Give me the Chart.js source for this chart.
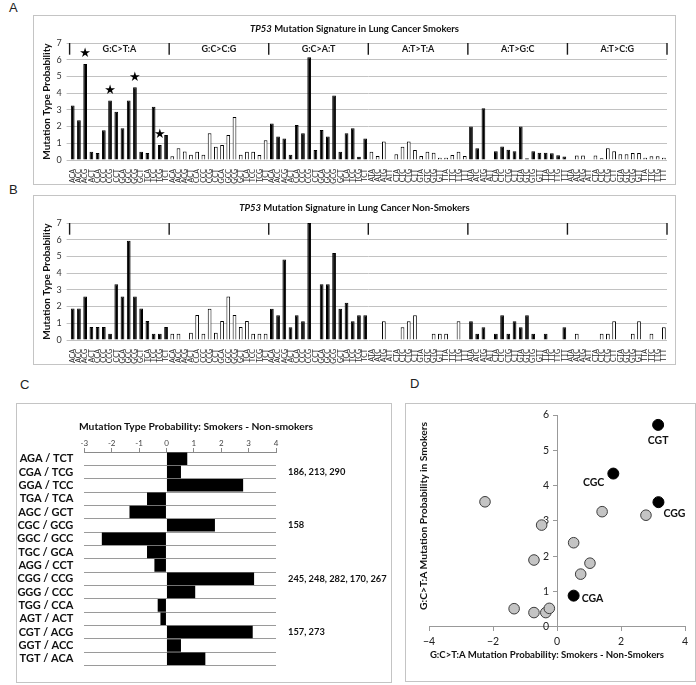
<!DOCTYPE html>
<html><head><meta charset="utf-8">
<script src="https://cdn.jsdelivr.net/npm/chart.js@4.4.1/dist/chart.umd.min.js"></script>
<style>
html,body{margin:0;padding:0;background:#fff;}
#wrap{position:relative;width:696px;height:685px;overflow:hidden;font-family:Lato,"Open Sans",sans-serif;}
.box{position:absolute;border:1px solid #c4c4c4;box-sizing:border-box;}
.letter{position:absolute;font-family:"Liberation Sans",Arial,sans-serif;font-size:13px;line-height:13px;color:#222;}
.ttl{position:absolute;font-weight:bold;color:#111;white-space:nowrap;text-align:center;line-height:12px;}
canvas{position:absolute;}
</style></head><body>
<div id="wrap">
  <div class="letter" style="left:9px;top:1px">A</div>
  <div class="letter" style="left:9px;top:183px">B</div>
  <div class="letter" style="left:20px;top:378px">C</div>
  <div class="letter" style="left:410px;top:377px">D</div>

  <div class="box" style="left:33px;top:15px;width:643px;height:170px"></div>
  <div class="box" style="left:33px;top:195px;width:643px;height:170px"></div>
  <div class="box" style="left:16px;top:403px;width:376px;height:280px"></div>
  <div class="box" style="left:405px;top:403px;width:291px;height:279px"></div>

  <canvas id="chartA" width="643" height="170" style="left:33px;top:15px"></canvas>
  <canvas id="chartB" width="643" height="170" style="left:33px;top:195px"></canvas>
  <canvas id="chartC" width="376" height="280" style="left:16px;top:403px"></canvas>
  <canvas id="chartD" width="291" height="279" style="left:405px;top:403px"></canvas>

  <div class="ttl" style="left:33px;width:643px;top:23px;font-size:9.5px"><i>TP53</i> Mutation Signature in Lung Cancer Smokers</div>
  <div class="ttl" style="left:33px;width:643px;top:202px;font-size:9.5px"><i>TP53</i> Mutation Signature in Lung Cancer Non-Smokers</div>
  <div class="ttl" style="left:16px;width:360px;top:420px;font-size:10.3px">Mutation Type Probability: Smokers - Non-smokers</div>
  <div class="ttl" style="left:407px;width:280px;top:649px;font-size:9.6px">G:C&gt;T:A Mutation Probability: Smokers - Non-Smokers</div>
  <div class="ttl" style="left:308px;width:230px;top:510px;font-size:10.3px;transform:rotate(-90deg);transform-origin:center center">G:C&gt;T:A Mutation Probability in Smokers</div>
</div>
<script>
// ---------- Data ----------
const mutationTypes = ['G:C>T:A','G:C>C:G','G:C>A:T','A:T>T:A','A:T>G:C','A:T>C:G'];
const gcContexts = ['ACA','ACC','ACG','ACT','CCA','CCC','CCG','CCT','GCA','GCC','GCG','GCT','TCA','TCC','TCG','TCT'];
const atContexts = ['ATA','ATC','ATG','ATT','CTA','CTC','CTG','CTT','GTA','GTC','GTG','GTT','TTA','TTC','TTG','TTT'];

// Panel A: smokers
const smokersGCtoTA = [3.26,2.38,5.74,0.5,0.42,1.78,3.56,2.88,1.9,3.56,4.36,0.5,0.42,3.18,0.9,1.5];
const smokersGCtoCG = [0.23,0.7,0.51,0.31,0.5,0.31,1.6,0.79,0.9,1.5,2.58,0.31,0.5,0.5,0.3,1.18];
const smokersGCtoAT = [2.18,1.4,1.29,0.31,2.1,1.6,6.14,0.6,1.79,1.4,3.86,0.5,1.6,1.9,0.2,1.29];
const smokersATtoTA = [0.5,0.24,1.1,0,0.34,0.8,1.1,0.6,0.24,0.5,0.44,0.14,0.14,0.3,0.5,0.24];
const smokersATtoGC = [2.0,0.7,3.09,0,0.52,0.81,0.61,0.52,2.0,0.11,0.52,0.43,0.43,0.41,0.29,0.21];
const smokersATtoCG = [0,0.27,0.27,0,0.27,0.1,0.7,0.53,0.35,0.35,0.42,0.42,0.14,0.22,0.22,0.14];
const starredSmokersGCtoTA = ['ACG','CCG','GCG','TCG'];

// Panel B: non-smokers
const nonSmokersGCtoTA = [1.89,1.89,2.6,0.78,0.78,0.78,0.38,3.34,2.6,5.94,2.6,1.89,1.13,0.38,0.38,0.78];
const nonSmokersGCtoCG = [0.38,0.38,0,0.44,1.5,0.38,1.87,0.44,1.13,2.6,1.5,0.78,1.13,0.38,0.38,0.38];
const nonSmokersGCtoAT = [1.87,1.48,4.82,0.76,1.48,1.12,7.0,0,3.33,3.33,5.2,1.87,2.23,1.12,1.48,1.48];
const nonSmokersATtoTA = [0,0,1.12,0,0,0.76,1.12,1.48,0,0,0.38,0.38,0.38,0,1.12,0];
const nonSmokersATtoGC = [1.12,0.38,0.76,0,0.38,1.48,0.38,1.12,0.76,1.48,0.38,0,0.38,0,0,0.76];
const nonSmokersATtoCG = [0,0.38,0,0,0,0.38,0.38,1.12,0,0,0.38,1.12,0,0.38,0,0.76];

// Panel C
const pairLabels = ['AGA / TCT','CGA / TCG','GGA / TCC','TGA / TCA','AGC / GCT','CGC / GCG','GGC / GCC','TGC / GCA','AGG / CCT','CGG / CCG','GGG / CCC','TGG / CCA','AGT / ACT','CGT / ACG','GGT / ACC','TGT / ACA'];
const diffSmokersMinusNon = [0.76,0.53,2.8,-0.71,-1.35,1.77,-2.36,-0.71,-0.44,3.2,1.05,-0.32,-0.22,3.15,0.53,1.42];
const codonLabels = ['','186, 213, 290','','','','158','','','','245, 248, 282, 170, 267','','','','157, 273','',''];

// Panel D
const otherDiff = [-2.25,-0.48,1.41,2.78,0.52,-0.72,1.03,0.74,-1.34,-0.72,-0.35,-0.24];
const otherSmokers = [3.54,2.88,3.26,3.16,2.38,1.89,1.8,1.49,0.51,0.4,0.4,0.52];
const cpgLabels = ['CGT','CGC','CGG','CGA'];
const cpgDiff = [3.16,1.76,3.17,0.52];
const cpgSmokers = [5.72,4.34,3.53,0.88];

// ---------- Shared ----------
Chart.defaults.font.family = 'Lato';
Chart.defaults.animation = false;

const categories = [];
mutationTypes.forEach((t, g) => (g < 3 ? gcContexts : atContexts).forEach(c => categories.push(c)));
const groupFill = ['#000000','#ffffff','#000000','#ffffff','#000000','#ffffff'];
const barFills = [];
mutationTypes.forEach((t, g) => { for (let i = 0; i < 16; i++) barFills.push(groupFill[g]); });

const headerPlugin = {
  id: 'header',
  beforeDatasetsDraw(chart, args, opts) {
    const {ctx, scales: {x, y}} = chart;
    ctx.save();
    ctx.strokeStyle = '#1a1a1a';
    ctx.lineWidth = 1.4;
    const yTop = y.getPixelForValue(7), yBot = y.getPixelForValue(6.3);
    for (let g = 0; g <= mutationTypes.length; g++) {
      const px = x.getPixelForValue(g * 16 - 0.5);
      ctx.beginPath(); ctx.moveTo(px, yTop); ctx.lineTo(px, yBot); ctx.stroke();
    }
    if (opts.labels) {
      ctx.fillStyle = '#1a1a1a';
      ctx.font = 'bold 9px Lato';
      ctx.textAlign = 'center';
      ctx.textBaseline = 'middle';
      mutationTypes.forEach((t, g) => ctx.fillText(t, x.getPixelForValue(g * 16 + 7.5), y.getPixelForValue(6.64)));
    }
    ctx.restore();
  },
  afterDatasetsDraw(chart, args, opts) {
    if (!opts.stars) return;
    const {ctx} = chart;
    const meta = chart.getDatasetMeta(0);
    ctx.save();
    ctx.fillStyle = '#000';
    ctx.font = '13px "DejaVu Sans"';
    ctx.textAlign = 'center';
    ctx.textBaseline = 'middle';
    opts.stars.forEach(lbl => {
      const idx = gcContexts.indexOf(lbl);
      const el = meta.data[idx];
      ctx.fillText('\u2605', el.x, el.y - 10);
    });
    ctx.restore();
  }
};

function signatureChart(id, groups, stars) {
  const values = [].concat(...groups);
  return new Chart(document.getElementById(id), {
    type: 'bar',
    data: {labels: categories, datasets: [{
      data: values, backgroundColor: barFills, borderColor: '#000', borderWidth: 1,
      barPercentage: 0.6, categoryPercentage: 1
    }]},
    options: {
      responsive: false,
      layout: {padding: {left: 0, right: 9, top: 28, bottom: 0}},
      plugins: {legend: {display: false}, tooltip: {enabled: false}, header: {labels: !!stars, stars: stars}},
      scales: {
        x: {
          grid: {display: false}, border: {display: false},
          ticks: {autoSkip: false, maxRotation: 90, minRotation: 90, font: {size: 7}, color: '#2a2a2a', padding: 1},
          afterFit(s) { s.height = 25; }
        },
        y: {
          min: 0, max: 7,
          ticks: {stepSize: 1, font: {size: 9}, color: '#333', padding: 5},
          grid: {color: '#c2c2c2', tickLength: 3},
          border: {display: false},
          title: {display: true, text: 'Mutation Type Probability', font: {size: 10, weight: 'bold'}, color: '#111', padding: {top: 8, bottom: 0}},
          afterFit(s) { s.width = 36.6; }
        }
      }
    },
    plugins: [headerPlugin]
  });
}

signatureChart('chartA', [smokersGCtoTA, smokersGCtoCG, smokersGCtoAT, smokersATtoTA, smokersATtoGC, smokersATtoCG], starredSmokersGCtoTA);
signatureChart('chartB', [nonSmokersGCtoTA, nonSmokersGCtoCG, nonSmokersGCtoAT, nonSmokersATtoTA, nonSmokersATtoGC, nonSmokersATtoCG], null);

// ---------- Panel C ----------
new Chart(document.getElementById('chartC'), {
  type: 'bar',
  data: {labels: pairLabels, datasets: [{
    data: diffSmokersMinusNon, backgroundColor: '#000', borderColor: '#000', borderWidth: 0,
    barPercentage: 0.94, categoryPercentage: 1
  }]},
  options: {
    indexAxis: 'y',
    responsive: false,
    layout: {padding: {left: 0, right: 0, top: 35, bottom: 10}},
    plugins: {legend: {display: false}, tooltip: {enabled: false}},
    scales: {
      x: {
        position: 'top', min: -3, max: 4,
        ticks: {stepSize: 1, font: {size: 8}, color: '#444', padding: 0},
        grid: {drawOnChartArea: false, tickLength: 4, color: '#8a8a8a'},
        border: {color: '#8a8a8a'},
        afterFit(s) { s.height = 14; }
      },
      y: {
        ticks: {font: {size: 11, weight: 'bold'}, color: '#111', padding: 11, autoSkip: false},
        grid: {color: '#9a9a9a', drawTicks: false, offset: true},
        border: {display: false},
        afterFit(s) { s.width = 68.3; }
      },
      y2: {
        type: 'category', labels: codonLabels, position: 'right', offset: true,
        grid: {display: false, drawTicks: false}, border: {display: false},
        ticks: {font: {size: 9.3, weight: 'bold'}, color: '#111', padding: 12, autoSkip: false},
        afterFit(s) { s.width = 116; }
      }
    }
  }
});

// ---------- Panel D ----------
const minusFmt = v => (v < 0 ? '\u2212' + Math.abs(v) : String(v));
const dTickPlugin = {
  id: 'dTicks',
  beforeDatasetsDraw(chart) {
    const {ctx, scales: {x, y}} = chart;
    const x0 = x.getPixelForValue(0), y0 = y.getPixelForValue(0);
    ctx.save();
    ctx.font = '10.5px Lato';
    ctx.fillStyle = '#222';
    ctx.textBaseline = 'middle';
    ctx.textAlign = 'center';
    x.ticks.forEach(t => ctx.fillText(minusFmt(t.value), x.getPixelForValue(t.value), y0 + 15));
    ctx.textAlign = 'right';
    y.ticks.forEach(t => ctx.fillText(String(t.value), x0 - 8, y.getPixelForValue(t.value)));
    ctx.restore();
  },
  afterDatasetsDraw(chart) {
    const {ctx} = chart;
    const meta = chart.getDatasetMeta(1);
    const place = [[0, 16, 'center'], [-9, 9, 'right'], [5, 11, 'left'], [8, 3, 'left']];
    ctx.save();
    ctx.fillStyle = '#111';
    ctx.font = 'bold 10.5px Lato';
    ctx.textBaseline = 'middle';
    cpgLabels.forEach((lbl, i) => {
      const el = meta.data[i];
      ctx.textAlign = place[i][2];
      ctx.fillText(lbl, el.x + place[i][0], el.y + place[i][1]);
    });
    ctx.restore();
  }
};
new Chart(document.getElementById('chartD'), {
  type: 'scatter',
  data: {datasets: [
    {data: otherDiff.map((x, i) => ({x, y: otherSmokers[i]})), backgroundColor: '#c4c4c4', borderColor: '#3c3c3c', borderWidth: 1, pointRadius: 5.3},
    {data: cpgDiff.map((x, i) => ({x, y: cpgSmokers[i]})), backgroundColor: '#000', borderColor: '#000', borderWidth: 1, pointRadius: 5.5}
  ]},
  options: {
    responsive: false,
    layout: {padding: {left: 24, right: 11, top: 12, bottom: 55.3}},
    plugins: {legend: {display: false}, tooltip: {enabled: false}},
    scales: {
      x: {
        type: 'linear', min: -4, max: 4, position: {y: 0},
        ticks: {stepSize: 2, display: false},
        grid: {drawOnChartArea: false, tickLength: 4, color: '#999'},
        border: {color: '#999'}
      },
      y: {
        min: 0, max: 6, position: {x: 0},
        ticks: {stepSize: 1, display: false},
        grid: {drawOnChartArea: false, tickLength: 4, color: '#999'},
        border: {color: '#999'}
      }
    }
  },
  plugins: [dTickPlugin]
});
</script>
</body></html>
